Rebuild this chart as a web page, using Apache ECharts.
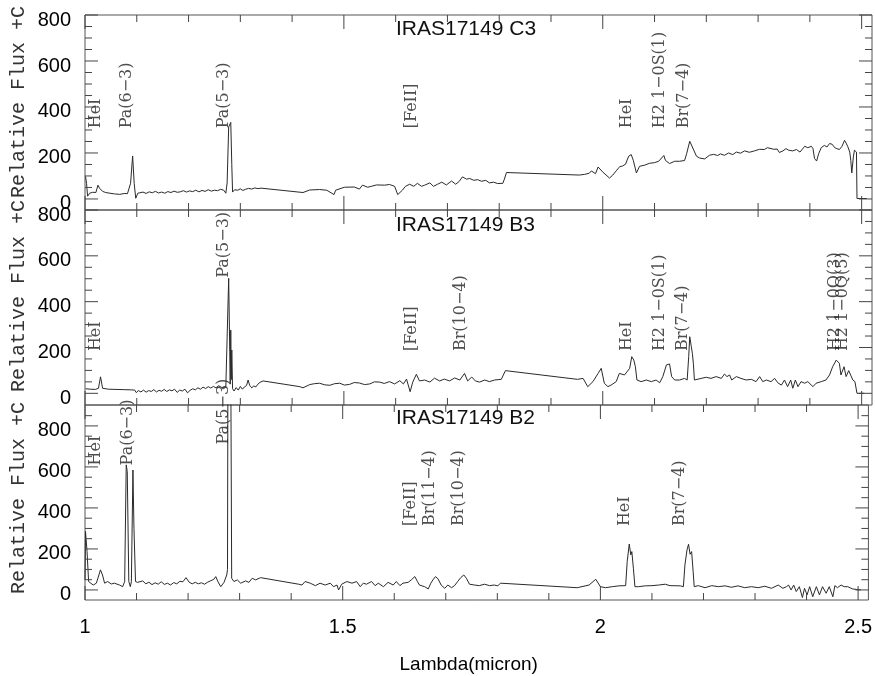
<!DOCTYPE html>
<html>
<head>
<meta charset="utf-8">
<script src="https://cdn.jsdelivr.net/npm/echarts@6/dist/echarts.min.js"></script>
<style>
  html, body { margin: 0; padding: 0; background: #fff; }
  #chart { width: 875px; height: 676px; }
</style>
</head>
<body>
<div id="chart"></div>
<script>
// Wavelength axis (micron)
const lambdaRange = [1.0, 2.52];
const lambdaMajorTicks = [1, 1.5, 2, 2.5];
const lambdaMinorTicks = [1.1, 1.2, 1.3, 1.4, 1.6, 1.7, 1.8, 1.9, 2.1, 2.2, 2.3, 2.4];

// Flux axis
const fluxMajorTicks = [0, 200, 400, 600, 800];
const fluxMinorTicks = [50, 100, 150, 250, 300, 350, 450, 500, 550, 650, 700, 750, 850];
const fluxRangeC3 = [-48, 800];
const fluxRangeB3 = [-51, 800];
const fluxRangeB2 = [-49, 902];

const panelNames = ['IRAS17149 C3', 'IRAS17149 B3', 'IRAS17149 B2'];

// Spectra: [wavelength, relative flux + C]
const spectrumC3 = [
  [1.001,98],[1.003,68],[1.005,12],[1.009,25],[1.015,29],[1.021,28],[1.025,60],[1.028,47],[1.034,33],[1.040,28],
  [1.048,25],[1.057,22],[1.067,20],[1.077,24],[1.082,23],[1.088,68],[1.092,187],[1.095,68],[1.098,3],[1.102,25],
  [1.106,27],[1.112,30],[1.118,24],[1.124,31],[1.130,27],[1.136,33],[1.142,26],[1.148,30],[1.154,25],[1.160,32],
  [1.166,28],[1.172,34],[1.178,29],[1.184,31],[1.190,36],[1.196,30],[1.202,35],[1.208,32],[1.214,38],[1.220,31],
  [1.226,37],[1.232,33],[1.238,40],[1.244,34],[1.250,38],[1.256,36],[1.262,42],[1.268,38],[1.272,25],[1.2745,70],
  [1.2775,313],[1.2795,305],[1.2815,333],[1.2835,150],[1.285,30],[1.289,40],[1.295,38],[1.300,44],[1.305,37],[1.310,42],
  [1.316,46],[1.322,43],[1.328,48],[1.334,45],[1.340,47],[1.421,28],
  [1.434,39],[1.453,41],[1.467,38],[1.481,19],[1.484,38],[1.501,51],[1.520,52],[1.530,43],[1.536,60],[1.546,51],
  [1.553,55],[1.563,61],[1.579,60],[1.588,63],[1.598,55],[1.604,19],[1.613,38],[1.619,55],[1.627,64],[1.635,55],
  [1.642,68],[1.650,55],[1.656,60],[1.666,70],[1.673,55],[1.681,64],[1.689,73],[1.698,61],[1.708,78],[1.716,64],
  [1.723,77],[1.729,96],[1.737,86],[1.743,89],[1.751,81],[1.758,84],[1.766,77],[1.774,81],[1.781,70],[1.789,73],
  [1.797,67],[1.807,68],[1.810,86],[1.814,115],[1.955,104],
  [1.965,107],[1.974,112],[1.978,122],[1.986,110],[1.991,139],[2.000,117],[2.013,91],[2.019,103],[2.027,125],[2.033,141],
  [2.038,143],[2.044,151],[2.050,186],[2.055,193],[2.059,168],[2.065,113],[2.071,142],[2.081,147],[2.090,155],[2.100,158],
  [2.108,164],[2.118,189],[2.121,168],[2.129,154],[2.139,164],[2.148,164],[2.158,167],[2.162,197],[2.168,251],[2.173,226],
  [2.181,186],[2.187,178],[2.197,174],[2.206,190],[2.214,194],[2.222,189],[2.227,196],[2.235,190],[2.243,200],[2.251,193],
  [2.258,204],[2.266,199],[2.274,209],[2.283,203],[2.293,209],[2.303,216],[2.312,215],[2.318,223],[2.330,216],[2.337,217],
  [2.341,202],[2.348,209],[2.354,219],[2.359,212],[2.367,209],[2.374,215],[2.381,204],[2.390,229],[2.396,223],[2.403,229],
  [2.406,219],[2.409,176],[2.413,165],[2.417,197],[2.422,223],[2.428,233],[2.433,226],[2.438,241],[2.443,238],[2.448,223],
  [2.452,219],[2.457,215],[2.462,229],[2.467,255],[2.470,243],[2.473,229],[2.477,204],[2.479,168],[2.481,113],[2.484,183],
  [2.486,212],[2.490,204],[2.491,2],[2.510,2]
];

const spectrumB3 = [
  [1.001,20],[1.010,18],[1.020,17],[1.026,22],[1.030,72],[1.034,22],[1.045,18],[1.060,17],[1.075,16],[1.090,15],
  [1.096,14],[1.099,3],[1.103,12],[1.108,6],[1.113,14],[1.118,5],[1.123,12],[1.128,8],[1.133,16],[1.138,6],
  [1.143,13],[1.148,9],[1.153,17],[1.158,8],[1.163,15],[1.168,11],[1.173,18],[1.178,4],[1.183,14],[1.188,10],
  [1.193,18],[1.198,2],[1.203,13],[1.208,20],[1.213,15],[1.218,24],[1.223,18],[1.228,27],[1.233,21],[1.238,29],
  [1.243,23],[1.248,30],[1.253,24],[1.258,33],[1.263,27],[1.268,20],[1.272,29],
  [1.2755,30],[1.2775,502],[1.279,495],[1.2805,40],[1.2815,276],[1.2825,60],[1.2835,189],[1.285,20],
  [1.288,10],[1.292,25],[1.296,14],[1.300,30],[1.304,18],[1.308,28],[1.312,34],[1.315,58],[1.318,35],[1.322,24],
  [1.326,32],[1.330,28],[1.334,40],[1.338,48],[1.344,54],[1.415,29],[1.421,24],
  [1.434,38],[1.443,42],[1.453,44],[1.463,37],[1.473,35],[1.482,42],[1.492,44],[1.501,36],[1.511,39],[1.520,47],
  [1.530,45],[1.540,38],[1.550,41],[1.559,50],[1.569,49],[1.578,43],[1.588,51],[1.598,41],[1.608,55],[1.615,41],
  [1.621,62],[1.628,7],[1.633,49],[1.640,83],[1.646,54],[1.656,58],[1.666,49],[1.675,66],[1.685,54],[1.694,62],
  [1.704,54],[1.714,67],[1.724,58],[1.733,87],[1.739,54],[1.747,71],[1.754,54],[1.762,49],[1.772,58],[1.781,51],
  [1.791,58],[1.804,61],[1.812,99],[1.951,61],
  [1.952,58],[1.962,65],[1.971,29],[1.981,51],[1.991,87],[1.997,109],[2.003,44],[2.010,29],[2.016,36],[2.026,51],
  [2.032,87],[2.042,80],[2.052,109],[2.056,160],[2.060,145],[2.063,116],[2.066,58],[2.074,51],[2.084,58],[2.094,51],
  [2.103,58],[2.110,46],[2.116,73],[2.123,124],[2.129,128],[2.133,73],[2.139,58],[2.148,58],[2.158,65],[2.163,58],
  [2.166,160],[2.168,247],[2.171,204],[2.173,175],[2.175,131],[2.177,58],[2.180,65],[2.190,65],[2.200,70],[2.209,65],
  [2.219,73],[2.229,65],[2.235,84],[2.240,73],[2.245,80],[2.249,58],[2.258,73],[2.267,65],[2.277,58],[2.287,61],
  [2.296,51],[2.303,73],[2.309,51],[2.316,58],[2.325,51],[2.332,65],[2.338,46],[2.345,36],[2.351,58],[2.357,29],
  [2.363,58],[2.367,22],[2.372,58],[2.377,29],[2.383,51],[2.390,44],[2.396,51],[2.406,29],[2.412,44],[2.422,51],
  [2.431,58],[2.438,80],[2.444,116],[2.451,145],[2.457,131],[2.460,80],[2.466,116],[2.470,73],[2.475,99],[2.478,102],
  [2.483,58],[2.487,51],[2.491,0],[2.505,0]
];

const spectrumB2 = [
  [1.000,49],[1.001,285],[1.004,187],[1.007,41],[1.010,33],[1.016,24],[1.022,33],[1.027,73],[1.030,98],[1.034,73],
  [1.038,33],[1.044,41],[1.051,29],[1.057,33],[1.067,24],[1.073,16],[1.077,41],[1.080,610],[1.082,577],[1.085,41],
  [1.088,16],[1.090,41],[1.093,585],[1.095,301],[1.098,41],[1.102,37],[1.112,44],
  [1.118,30],[1.124,38],[1.130,26],[1.136,35],[1.142,28],[1.148,40],[1.154,27],[1.160,33],[1.166,24],[1.172,36],
  [1.178,30],[1.184,42],[1.190,40],[1.196,60],[1.202,38],[1.208,30],[1.214,37],[1.220,30],[1.226,35],[1.232,28],
  [1.238,38],[1.244,45],[1.250,52],[1.2537,65],[1.258,40],[1.2634,16],[1.2697,37],[1.275,73],
  [1.2765,100],[1.2775,1300],[1.2825,1300],[1.2846,57],
  [1.289,41],[1.2955,49],[1.302,33],[1.3116,44],[1.318,37],[1.3244,57],[1.331,49],[1.3406,60],[1.4146,28],[1.421,24],
  [1.427,41],[1.437,33],[1.447,21],[1.456,33],[1.466,24],[1.476,33],[1.482,16],[1.489,24],[1.492,0],[1.498,28],
  [1.508,41],[1.518,33],[1.527,41],[1.534,16],[1.540,33],[1.546,28],[1.556,41],[1.563,21],[1.569,33],[1.579,16],
  [1.588,37],[1.598,24],[1.604,41],[1.611,21],[1.617,33],[1.627,37],[1.633,49],[1.640,65],[1.645,41],[1.649,24],
  [1.659,16],[1.666,5],[1.671,33],[1.675,49],[1.680,65],[1.685,54],[1.691,24],[1.698,8],[1.704,24],[1.711,11],
  [1.717,21],[1.723,41],[1.729,60],[1.735,73],[1.740,57],[1.746,28],[1.756,24],[1.765,21],[1.775,28],[1.785,21],
  [1.794,24],[1.801,20],[1.806,33],[1.955,11],
  [1.958,16],[1.978,24],[1.991,52],[2.000,16],[2.010,11],[2.023,16],[2.036,20],[2.049,21],[2.052,138],[2.056,224],
  [2.059,171],[2.061,187],[2.064,106],[2.067,16],[2.074,16],[2.087,20],[2.100,21],[2.113,24],[2.126,28],[2.135,21],
  [2.155,20],[2.161,16],[2.164,122],[2.168,195],[2.171,223],[2.174,174],[2.177,187],[2.180,89],[2.182,16],[2.190,21],
  [2.203,11],[2.216,21],[2.229,16],[2.242,20],[2.254,13],[2.267,20],[2.280,11],[2.293,16],[2.306,11],[2.319,18],
  [2.332,8],[2.345,24],[2.354,8],[2.361,16],[2.365,24],[2.370,0],[2.375,24],[2.380,-8],[2.386,16],[2.392,-37],
  [2.396,8],[2.401,-24],[2.406,16],[2.412,-33],[2.419,16],[2.425,-24],[2.431,16],[2.438,-16],[2.444,16],[2.451,-33],
  [2.455,21],[2.460,11],[2.467,24],[2.473,16],[2.480,16],[2.489,5],[2.505,0]
];

// Line identifications: [wavelength, flux at foot of label, label]
const linesC3 = [
  [1.022, 305, 'HeI'], [1.081, 305, 'Pa(6\u22123)'], [1.270, 305, 'Pa(5\u22123)'], [1.633, 305, '[FeII]'],
  [2.047, 305, 'HeI'], [2.112, 305, 'H2 1\u22120S(1)'], [2.158, 305, 'Br(7\u22124)']
];
const linesB3 = [
  [1.022, 182, 'HeI'], [1.270, 502, 'Pa(5\u22123)'], [1.633, 182, '[FeII]'], [1.727, 182, 'Br(10\u22124)'],
  [2.048, 182, 'HeI'], [2.112, 182, 'H2 1\u22120S(1)'], [2.155, 182, 'Br(7\u22124)'],
  [2.450, 182, 'H2 1\u22120Q(3)'], [2.465, 182, 'H2 1\u22120Q(5)']
];
const linesB2 = [
  [1.022, 605, 'HeI'], [1.085, 605, 'Pa(6\u22123)'], [1.270, 707, 'Pa(5\u22123)'], [1.633, 309, '[FeII]'],
  [1.670, 309, 'Br(11\u22124)'], [1.727, 309, 'Br(10\u22124)'], [2.048, 309, 'HeI'], [2.155, 309, 'Br(7\u22124)']
];

const spectra = [spectrumC3, spectrumB3, spectrumB2];
const lineSets = [linesC3, linesB3, linesB2];
const fluxRanges = [fluxRangeC3, fluxRangeB3, fluxRangeB2];

// Panel layout (pixels)
const panelLeft = 85, panelWidth = 787, panelHeight = 195;
const panelTops = [15, 210, 405];
const nPanels = panelTops.length;
const frameColor = '#555';
const sansFont = '"Liberation Sans", Helvetica, Arial, sans-serif';

const grids = panelTops.map(t => ({
  left: panelLeft, top: t, width: panelWidth, height: panelHeight,
  show: true, borderColor: frameColor, borderWidth: 1, backgroundColor: 'rgba(0,0,0,0)'
}));

const xAxes = [], yAxes = [], series = [];

panelTops.forEach((t, i) => {
  const last = i === nPanels - 1;
  const range = fluxRanges[i];
  xAxes.push({
    type: 'value', gridIndex: i, position: 'bottom', min: lambdaRange[0], max: lambdaRange[1],
    axisLine: { show: false, onZero: false }, axisTick: { show: false }, splitLine: { show: false },
    axisLabel: last ? {
      show: true, customValues: lambdaMajorTicks, margin: 17, fontSize: 20,
      fontFamily: sansFont, color: '#000'
    } : { show: false },
    name: last ? 'Lambda(micron)' : '',
    nameLocation: 'middle', nameGap: 55,
    nameTextStyle: { fontSize: 19, fontFamily: sansFont, color: '#000', padding: [0, 16, 0, 0] }
  });
  yAxes.push({
    type: 'value', gridIndex: i, position: 'left', min: range[0], max: range[1],
    axisLine: { show: false, onZero: false }, axisTick: { show: false }, splitLine: { show: false },
    axisLabel: { show: false }
  });

  series.push({
    type: 'line', xAxisIndex: i, yAxisIndex: i, data: spectra[i],
    showSymbol: false, symbol: 'none', clip: true, silent: true,
    lineStyle: { color: '#2a2a2a', width: 1 }
  });
  series.push({
    type: 'scatter', xAxisIndex: i, yAxisIndex: i, silent: true,
    symbolSize: 1, itemStyle: { color: 'rgba(0,0,0,0)' },
    data: lineSets[i].map(d => ({ value: [d[0], d[1]], name: d[2] })),
    label: {
      show: true, formatter: '{b}', rotate: 90, position: [0, 0],
      align: 'left', verticalAlign: 'middle',
      fontFamily: '"DejaVu Serif", serif', fontSize: 16, color: '#222'
    }
  });
});

const titles = panelNames.map((name, i) => ({
  text: name, left: 396, top: [19, 215, 408][i], padding: 0,
  textStyle: { fontSize: 21, fontWeight: 'normal', fontFamily: sansFont, color: '#111' }
}));

// Rotated flux labels beside each panel
const fluxTitleCenters = [102, 296, 498];
const axisTitles = fluxTitleCenters.map(cy => ({
  type: 'text', x: 19, y: cy, rotation: Math.PI / 2, silent: true,
  style: {
    text: 'Relative Flux +C', align: 'center', verticalAlign: 'middle',
    fontFamily: '"Liberation Mono", "Courier New", monospace', fontSize: 20, fill: '#333'
  }
}));

const chart = echarts.init(document.getElementById('chart'), null, { renderer: 'canvas' });
chart.setOption({
  animation: false,
  backgroundColor: '#fff',
  title: titles,
  grid: grids,
  xAxis: xAxes,
  yAxis: yAxes,
  series: series
});

// Inward tick marks on all four sides, drawn as broken line series in each panel's data space,
// plus the flux labels beside the left edge.
const tickLen = { xMajor: 14, xMinor: 7, yMajor: 13, yMinor: 7 };
const GAP = ['-', '-'];
const labelMarks = [];
const tickSeries = [];
panelTops.forEach((t, i) => {
  const range = fluxRanges[i];
  const inRange = v => v >= range[0] && v <= range[1];
  const toPx = pt => chart.convertToPixel({ gridIndex: i }, pt);
  const toData = p => chart.convertFromPixel({ gridIndex: i }, p);
  const bottomPx = toPx([lambdaRange[0], range[0]])[1];
  const topPx = toPx([lambdaRange[0], range[1]])[1];
  const leftPx = toPx([lambdaRange[0], range[0]])[0];
  const rightPx = toPx([lambdaRange[1], range[0]])[0];
  const segs = [];
  lambdaMajorTicks.map(v => [v, tickLen.xMajor])
    .concat(lambdaMinorTicks.map(v => [v, tickLen.xMinor]))
    .forEach(([v, len]) => {
      const yB = toData([0, bottomPx - len])[1];
      const yT = toData([0, topPx + len])[1];
      segs.push([v, range[0]], [v, yB], GAP, [v, range[1]], [v, yT], GAP);
    });
  fluxMajorTicks.filter(inRange).map(v => [v, tickLen.yMajor])
    .concat(fluxMinorTicks.filter(inRange).map(v => [v, tickLen.yMinor]))
    .forEach(([v, len]) => {
      const xL = toData([leftPx + len, 0])[0];
      const xR = toData([rightPx - len, 0])[0];
      segs.push([lambdaRange[0], v], [xL, v], GAP, [lambdaRange[1], v], [xR, v], GAP);
    });
  tickSeries.push({
    type: 'line', xAxisIndex: i, yAxisIndex: i, data: segs, connectNulls: false,
    showSymbol: false, symbol: 'none', clip: false, silent: true, z: 5,
    lineStyle: { color: '#444', width: 1 }
  });
  fluxMajorTicks.filter(inRange).forEach(v => {
    const p = toPx([lambdaRange[0], v]);
    labelMarks.push({
      type: 'text', silent: true, z: 50, x: p[0] - 14, y: p[1] + 5,
      style: { text: String(v), align: 'right', verticalAlign: 'middle',
        fontFamily: sansFont, fontSize: 20, fill: '#000' }
    });
  });
});

chart.setOption({
  series: series.concat(tickSeries),
  graphic: axisTitles.concat(labelMarks)
});
</script>
</body>
</html>
